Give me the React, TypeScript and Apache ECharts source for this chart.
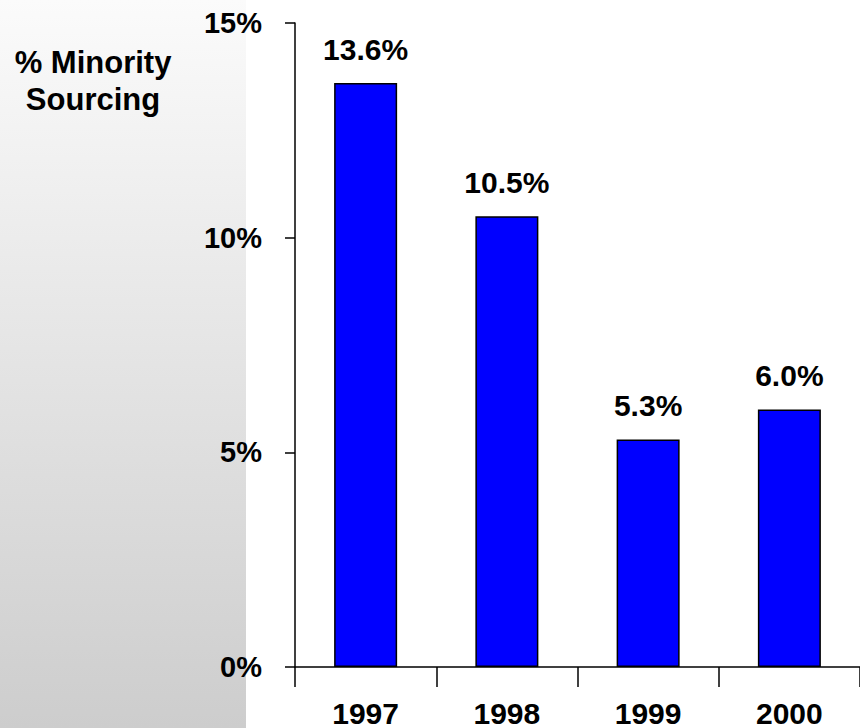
import React, { useEffect, useRef } from "react";
import * as echarts from "echarts";

const categories = ["1997", "1998", "1999", "2000"];
const values = [13.6, 10.5, 5.3, 6.0];
const yTicks = [0, 5, 10, 15];
const titleLines = ["% Minority", "Sourcing"];

export default function App() {
  const ref = useRef<HTMLDivElement>(null);
  useEffect(() => {
    if (!ref.current) return;
    const chart = echarts.init(ref.current, null, { renderer: "svg" });
    const font = "Liberation Sans, Arial, sans-serif";
    chart.setOption({
      animation: false,
      backgroundColor: "#ffffff",
      graphic: [
        {
          type: "rect",
          z: -10,
          shape: { x: 0, y: 0, width: 246, height: 728 },
          style: {
            fill: new echarts.graphic.LinearGradient(0, 0, 0, 1, [
              { offset: 0, color: "#fbfbfb" },
              { offset: 1, color: "#cdcdcd" },
            ]),
          },
          silent: true,
        },
        {
          type: "text",
          x: 93,
          y: 62,
          style: {
            text: titleLines[0],
            fontSize: 31,
            fontWeight: "bold",
            fontFamily: font,
            fill: "#000",
            textAlign: "center",
            textVerticalAlign: "middle",
          },
        },
        {
          type: "text",
          x: 93,
          y: 99,
          style: {
            text: titleLines[1],
            fontSize: 31,
            fontWeight: "bold",
            fontFamily: font,
            fill: "#000",
            textAlign: "center",
            textVerticalAlign: "middle",
          },
        },
      ],
      grid: { left: 295, top: 23, width: 570, height: 644, containLabel: false },
      xAxis: {
        type: "category",
        data: categories,
        boundaryGap: true,
        axisLine: { show: true, lineStyle: { color: "#000", width: 1.5 } },
        axisTick: { show: true, length: 20, lineStyle: { color: "#000", width: 1.5 } },
        axisLabel: {
          margin: 31,
          fontSize: 30,
          fontWeight: "bold",
          fontFamily: font,
          color: "#000",
        },
        splitLine: { show: false },
      },
      yAxis: {
        type: "value",
        min: yTicks[0],
        max: yTicks[yTicks.length - 1],
        interval: 5,
        axisLine: { show: true, lineStyle: { color: "#000", width: 1.5 } },
        axisTick: { show: true, length: 10, lineStyle: { color: "#000", width: 1.5 } },
        axisLabel: {
          margin: 33,
          fontSize: 29,
          fontWeight: "bold",
          fontFamily: font,
          color: "#000",
          formatter: (v: number) => v + "%",
        },
        splitLine: { show: false },
      },
      series: [
        {
          type: "bar",
          data: values,
          barWidth: 63,
          itemStyle: { color: "#0000ff", borderColor: "#000", borderWidth: 1.5 },
          label: {
            show: true,
            position: "top",
            distance: 19,
            fontSize: 30,
            fontWeight: "bold",
            fontFamily: font,
            color: "#000",
            formatter: (p: any) => Number(p.value).toFixed(1) + "%",
          },
        },
      ],
    });
    return () => chart.dispose();
  }, []);
  return (
    <div
      ref={ref}
      style={{ position: "fixed", left: 0, top: 0, width: 860, height: 728 }}
    />
  );
}
